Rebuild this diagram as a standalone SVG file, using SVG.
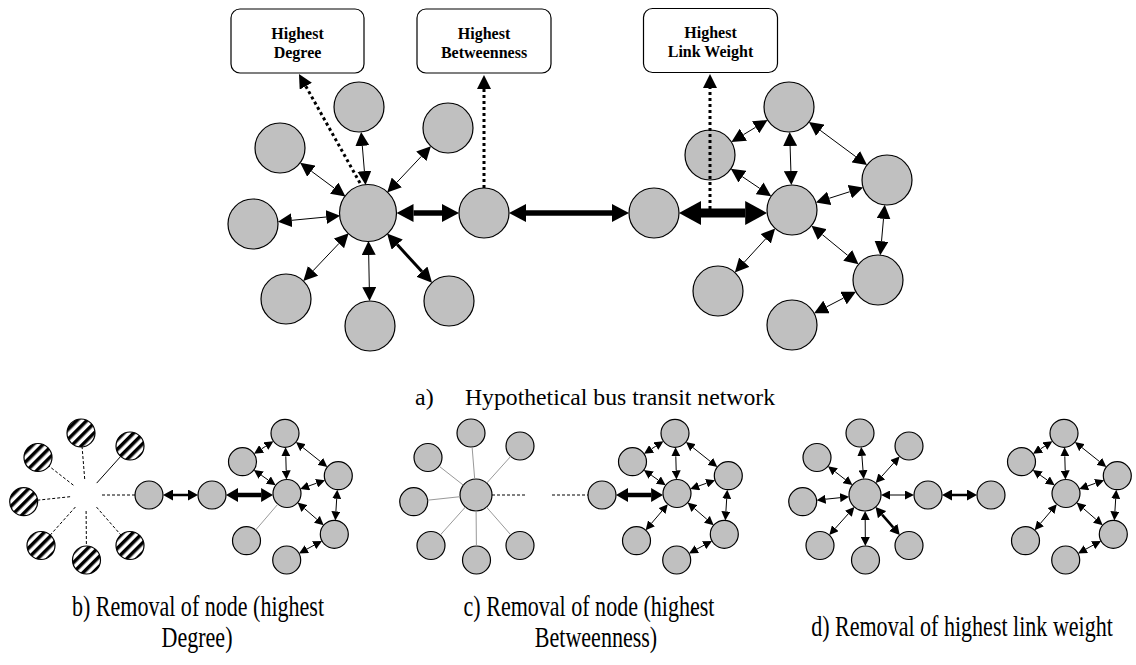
<svg xmlns="http://www.w3.org/2000/svg" width="1136" height="665" viewBox="0 0 1136 665">
  <style>
    .nd { fill: #c0c0c0; stroke: #000; stroke-width: 1.2; }
    .hx { fill: url(#hatch); stroke: #000; stroke-width: 1.2; }
    .box { fill: #fff; stroke: #000; stroke-width: 1.2; }
    .bt { font-family: "Liberation Serif", "Times New Roman", serif; font-weight: bold; font-size: 16px; text-anchor: middle; fill: #000; }
    .cap { font-family: "Liberation Serif", "Times New Roman", serif; font-size: 24px; fill: #000; }
    .cap2 { font-family: "Liberation Serif", "Times New Roman", serif; font-size: 29px; text-anchor: middle; fill: #000; }
    line { fill: none; }
    .a1 { stroke: #000; stroke-width: 1; marker-start: url(#mA); marker-end: url(#mA); }
    .a2 { stroke: #000; stroke-width: 3; marker-start: url(#mB); marker-end: url(#mB); }
    .a3 { stroke: #000; stroke-width: 5.5; marker-start: url(#mC); marker-end: url(#mC); }
    .a4 { stroke: #000; stroke-width: 9; marker-start: url(#mD); marker-end: url(#mD); }
    .dot { stroke: #000; stroke-width: 3; stroke-dasharray: 3 3; marker-end: url(#mE); }
    .s1 { stroke: #000; stroke-width: 1; marker-start: url(#ms); marker-end: url(#ms); }
    .s2 { stroke: #000; stroke-width: 2.5; marker-start: url(#mm); marker-end: url(#mm); }
    .s3 { stroke: #000; stroke-width: 4.5; marker-start: url(#ml); marker-end: url(#ml); }
    .dsh { stroke: #000; stroke-width: 1; stroke-dasharray: 3 2; }
    .sol { stroke: #000; stroke-width: 1; }
    .gry { stroke: #999; stroke-width: 1; }
  </style>
  <defs>
    <pattern id="hatch" width="7" height="7" patternUnits="userSpaceOnUse" patternTransform="rotate(45)">
      <rect width="7" height="7" fill="#fff"/>
      <rect width="3.5" height="7" fill="#000"/>
    </pattern>
    <marker id="mA" viewBox="0 -7 14 14" refX="0" refY="0" markerWidth="14" markerHeight="14" markerUnits="userSpaceOnUse" orient="auto-start-reverse"><path d="M0,-7L14,0L0,7z" fill="#000"/></marker>
    <marker id="mB" viewBox="0 -7.5 15 15" refX="0" refY="0" markerWidth="15" markerHeight="15" markerUnits="userSpaceOnUse" orient="auto-start-reverse"><path d="M0,-7.5L15,0L0,7.5z" fill="#000"/></marker>
    <marker id="mC" viewBox="0 -9 17 18" refX="0" refY="0" markerWidth="17" markerHeight="18" markerUnits="userSpaceOnUse" orient="auto-start-reverse"><path d="M0,-9L17,0L0,9z" fill="#000"/></marker>
    <marker id="mD" viewBox="0 -12 22 24" refX="0" refY="0" markerWidth="22" markerHeight="24" markerUnits="userSpaceOnUse" orient="auto-start-reverse"><path d="M0,-12L22,0L0,12z" fill="#000"/></marker>
    <marker id="mE" viewBox="0 -7 14 14" refX="0" refY="0" markerWidth="14" markerHeight="14" markerUnits="userSpaceOnUse" orient="auto"><path d="M0,-7L14,0L0,7z" fill="#000"/></marker>
    <marker id="ms" viewBox="0 -4.5 9 9" refX="0" refY="0" markerWidth="9" markerHeight="9" markerUnits="userSpaceOnUse" orient="auto-start-reverse"><path d="M0,-4.5L9,0L0,4.5z" fill="#000"/></marker>
    <marker id="mm" viewBox="0 -5.5 10 11" refX="0" refY="0" markerWidth="10" markerHeight="11" markerUnits="userSpaceOnUse" orient="auto-start-reverse"><path d="M0,-5.5L10,0L0,5.5z" fill="#000"/></marker>
    <marker id="ml" viewBox="0 -7 12 14" refX="0" refY="0" markerWidth="12" markerHeight="14" markerUnits="userSpaceOnUse" orient="auto-start-reverse"><path d="M0,-7L12,0L0,7z" fill="#000"/></marker>
  </defs>

  <rect width="1136" height="665" fill="#fff"/>

  <!-- label boxes -->
  <g id="box-degree">
    <rect class="box" x="231" y="9" width="133" height="64" rx="9"/>
    <text class="bt" x="297.5" y="38.5">Highest</text>
    <text class="bt" x="297.5" y="57.5">Degree</text>
  </g>
  <g id="box-betweenness">
    <rect class="box" x="417" y="9" width="134" height="64" rx="9"/>
    <text class="bt" x="484" y="38.5">Highest</text>
    <text class="bt" x="484" y="57.5">Betweenness</text>
  </g>
  <g id="box-linkweight">
    <rect class="box" x="643.5" y="8.5" width="134" height="64" rx="9"/>
    <text class="bt" x="710.5" y="38">Highest</text>
    <text class="bt" x="710.5" y="57">Link Weight</text>
  </g>

  <!-- a) full network -->
  <g id="nodes-a">
    <g id="a-hub"><circle class="nd" cx="368" cy="213" r="28.5"/></g>
    <g id="a-top"><circle class="nd" cx="359" cy="107" r="25"/></g>
    <g id="a-ul"><circle class="nd" cx="280" cy="148" r="25"/></g>
    <g id="a-l"><circle class="nd" cx="253" cy="224" r="25"/></g>
    <g id="a-ll"><circle class="nd" cx="286" cy="299" r="25"/></g>
    <g id="a-b"><circle class="nd" cx="370" cy="326" r="25"/></g>
    <g id="a-lr"><circle class="nd" cx="449" cy="301" r="25"/></g>
    <g id="a-ur"><circle class="nd" cx="448" cy="128" r="25"/></g>
    <g id="a-btw"><circle class="nd" cx="484" cy="213" r="25"/></g>
    <g id="a-mid"><circle class="nd" cx="654" cy="213" r="25"/></g>
    <g id="a-hub2"><circle class="nd" cx="792" cy="210" r="25"/></g>
    <g id="a-rt"><circle class="nd" cx="789" cy="107" r="25"/></g>
    <g id="a-rl"><circle class="nd" cx="710" cy="155" r="25"/></g>
    <g id="a-rr"><circle class="nd" cx="887" cy="180" r="25"/></g>
    <g id="a-rll"><circle class="nd" cx="718" cy="291" r="25"/></g>
    <g id="a-rlr"><circle class="nd" cx="878" cy="280" r="25"/></g>
    <g id="a-rb"><circle class="nd" cx="792" cy="325" r="25"/></g>
  </g>

  <!-- b) network without the highest-degree node -->
  <g id="nodes-b">
    <g id="b-top"><circle class="hx" cx="81" cy="433" r="14"/></g>
    <g id="b-ul"><circle class="hx" cx="38" cy="457.5" r="14"/></g>
    <g id="b-ur"><circle class="hx" cx="130" cy="446" r="14"/></g>
    <g id="b-l"><circle class="hx" cx="23.7" cy="501.7" r="14"/></g>
    <g id="b-ll"><circle class="hx" cx="41" cy="545.5" r="14"/></g>
    <g id="b-b"><circle class="hx" cx="86.5" cy="560" r="14"/></g>
    <g id="b-lr"><circle class="hx" cx="130" cy="545.5" r="14"/></g>
    <g id="b-g1"><circle class="nd" cx="149" cy="495" r="14"/></g>
    <g id="b-g2"><circle class="nd" cx="212" cy="495" r="14"/></g>
    <g id="b-hub2"><circle class="nd" cx="287" cy="493.5" r="14"/></g>
    <g id="b-rt"><circle class="nd" cx="285" cy="433.3" r="14"/></g>
    <g id="b-rl"><circle class="nd" cx="242.5" cy="461.7" r="14"/></g>
    <g id="b-rr"><circle class="nd" cx="338.3" cy="475.7" r="14"/></g>
    <g id="b-rlr"><circle class="nd" cx="334.3" cy="534.3" r="14"/></g>
    <g id="b-rll"><circle class="nd" cx="246.5" cy="540.7" r="14"/></g>
    <g id="b-rb"><circle class="nd" cx="286.7" cy="560" r="14"/></g>
  </g>

  <!-- c) network without the highest-betweenness node -->
  <g id="nodes-c" transform="translate(390,0)">
    <g id="c-hub"><circle class="nd" cx="86" cy="495" r="16"/></g>
    <g id="c-top"><circle class="nd" cx="81" cy="433" r="14"/></g>
    <g id="c-ul"><circle class="nd" cx="38" cy="457.5" r="14"/></g>
    <g id="c-ur"><circle class="nd" cx="130" cy="446" r="14"/></g>
    <g id="c-l"><circle class="nd" cx="23.7" cy="501.7" r="14"/></g>
    <g id="c-ll"><circle class="nd" cx="41" cy="545.5" r="14"/></g>
    <g id="c-b"><circle class="nd" cx="86.5" cy="560" r="14"/></g>
    <g id="c-lr"><circle class="nd" cx="130" cy="545.5" r="14"/></g>
    <g id="c-g2"><circle class="nd" cx="212" cy="495" r="14"/></g>
    <g id="c-hub2"><circle class="nd" cx="287" cy="493.5" r="14"/></g>
    <g id="c-rt"><circle class="nd" cx="285" cy="433.3" r="14"/></g>
    <g id="c-rl"><circle class="nd" cx="242.5" cy="461.7" r="14"/></g>
    <g id="c-rr"><circle class="nd" cx="338.3" cy="475.7" r="14"/></g>
    <g id="c-rlr"><circle class="nd" cx="334.3" cy="534.3" r="14"/></g>
    <g id="c-rll"><circle class="nd" cx="246.5" cy="540.7" r="14"/></g>
    <g id="c-rb"><circle class="nd" cx="286.7" cy="560" r="14"/></g>
  </g>

  <!-- d) network without the highest-weight link -->
  <g id="nodes-d" transform="translate(779,0)">
    <g id="d-hub"><circle class="nd" cx="86" cy="495" r="16"/></g>
    <g id="d-top"><circle class="nd" cx="81" cy="433" r="14"/></g>
    <g id="d-ul"><circle class="nd" cx="38" cy="457.5" r="14"/></g>
    <g id="d-ur"><circle class="nd" cx="130" cy="446" r="14"/></g>
    <g id="d-l"><circle class="nd" cx="23.7" cy="501.7" r="14"/></g>
    <g id="d-ll"><circle class="nd" cx="41" cy="545.5" r="14"/></g>
    <g id="d-b"><circle class="nd" cx="86.5" cy="560" r="14"/></g>
    <g id="d-lr"><circle class="nd" cx="130" cy="545.5" r="14"/></g>
    <g id="d-g1"><circle class="nd" cx="149" cy="495" r="14"/></g>
    <g id="d-g2"><circle class="nd" cx="212" cy="495" r="14"/></g>
    <g id="d-hub2"><circle class="nd" cx="287" cy="493.5" r="14"/></g>
    <g id="d-rt"><circle class="nd" cx="285" cy="433.3" r="14"/></g>
    <g id="d-rl"><circle class="nd" cx="242.5" cy="461.7" r="14"/></g>
    <g id="d-rr"><circle class="nd" cx="338.3" cy="475.7" r="14"/></g>
    <g id="d-rlr"><circle class="nd" cx="334.3" cy="534.3" r="14"/></g>
    <g id="d-rll"><circle class="nd" cx="246.5" cy="540.7" r="14"/></g>
    <g id="d-rb"><circle class="nd" cx="286.7" cy="560" r="14"/></g>
  </g>

  <!-- links -->
  <g id="connectors">
    <g id="conn-a">
      <line class="a1" x1="364.4" y1="171.1" x2="362.3" y2="145.9"/>
      <line class="a1" x1="334.2" y1="188.1" x2="311.4" y2="171.2"/>
      <line class="a1" x1="326.2" y1="217" x2="291.8" y2="220.3"/>
      <line class="a1" x1="339" y1="243.4" x2="313" y2="270.8"/>
      <line class="a1" x1="368.7" y1="255" x2="369.3" y2="287"/>
      <line class="a2" x1="397.2" y1="244.6" x2="421.9" y2="271.6"/>
      <line class="a1" x1="396.8" y1="182.4" x2="421.3" y2="156.4"/>
      <line class="a3" x1="413.5" y1="213" x2="442" y2="213"/>
      <line class="a3" x1="526" y1="213" x2="612" y2="213"/>
      <line class="a4" x1="701" y1="213" x2="745.2" y2="213"/>
      <line class="a1" x1="755.6" y1="127.3" x2="743.4" y2="134.7"/>
      <line class="a1" x1="790.1" y1="146" x2="790.9" y2="171"/>
      <line class="a1" x1="820.2" y1="130.3" x2="855.8" y2="156.7"/>
      <line class="a1" x1="742.4" y1="176.7" x2="759.6" y2="188.3"/>
      <line class="a1" x1="829.2" y1="198.3" x2="849.8" y2="191.7"/>
      <line class="a1" x1="883.5" y1="218.8" x2="881.5" y2="241.2"/>
      <line class="a1" x1="822.3" y1="234.6" x2="847.7" y2="255.4"/>
      <line class="a1" x1="765.7" y1="238.8" x2="744.3" y2="262.2"/>
      <line class="a1" x1="843.5" y1="298.1" x2="826.5" y2="306.9"/>
      <!-- callouts to the label boxes -->
      <line class="dot" x1="360" y1="183" x2="305.8" y2="86.2"/>
      <line class="dot" x1="484" y1="188" x2="484" y2="89"/>
      <line class="dot" x1="710" y1="209" x2="710" y2="88"/>
    </g>

    <g id="conn-b">
      <line class="dsh" x1="84.7" y1="479" x2="82.1" y2="447"/>
      <line class="dsh" x1="73.4" y1="485.2" x2="49" y2="466.1"/>
      <line class="sol" x1="96.7" y1="483.1" x2="120.7" y2="456.4"/>
      <line class="dsh" x1="70.1" y1="496.7" x2="37.6" y2="500.2"/>
      <line class="dsh" x1="75.4" y1="507" x2="50.3" y2="535"/>
      <line class="dsh" x1="86.1" y1="511" x2="86.4" y2="546"/>
      <line class="dsh" x1="96.5" y1="507.1" x2="120.8" y2="534.9"/>
      <line class="dsh" x1="102" y1="495" x2="135" y2="495"/>
      <line class="s2" x1="173" y1="495" x2="188" y2="495"/>
      <line class="s3" x1="238" y1="495" x2="261.1" y2="495"/>
      <line class="s1" x1="265.9" y1="446.1" x2="261.6" y2="448.9"/>
      <line class="s1" x1="285.8" y1="456.3" x2="286.2" y2="470.5"/>
      <line class="s1" x1="303" y1="447.6" x2="320.3" y2="461.4"/>
      <line class="s1" x1="261.2" y1="475.1" x2="268.3" y2="480.1"/>
      <line class="s1" x1="308.7" y1="486" x2="316.6" y2="483.2"/>
      <line class="s1" x1="336.7" y1="498.7" x2="335.9" y2="511.4"/>
      <line class="s1" x1="304.4" y1="508.5" x2="316.9" y2="519.3"/>
      <line class="gry" x1="277.9" y1="504.1" x2="255.6" y2="530.1"/>
      <line class="s1" x1="314.1" y1="545.2" x2="306.9" y2="549.1"/>
    </g>

    <g id="conn-c" transform="translate(390,0)">
      <line class="gry" x1="84.7" y1="479" x2="82.1" y2="447"/>
      <line class="gry" x1="73.4" y1="485.2" x2="49" y2="466.1"/>
      <line class="gry" x1="96.7" y1="483.1" x2="120.7" y2="456.4"/>
      <line class="gry" x1="70.1" y1="496.7" x2="37.6" y2="500.2"/>
      <line class="gry" x1="75.4" y1="507" x2="50.3" y2="535"/>
      <line class="gry" x1="86.1" y1="511" x2="86.4" y2="546"/>
      <line class="gry" x1="96.5" y1="507.1" x2="120.8" y2="534.9"/>
      <line class="dsh" x1="102" y1="495" x2="136" y2="495"/>
      <line class="dsh" x1="162" y1="495" x2="198" y2="495"/>
      <line class="s3" x1="238" y1="495" x2="261.1" y2="495"/>
      <line class="s1" x1="265.9" y1="446.1" x2="261.6" y2="448.9"/>
      <line class="s1" x1="285.8" y1="456.3" x2="286.2" y2="470.5"/>
      <line class="s1" x1="303" y1="447.6" x2="320.3" y2="461.4"/>
      <line class="s1" x1="261.2" y1="475.1" x2="268.3" y2="480.1"/>
      <line class="s1" x1="308.7" y1="486" x2="316.6" y2="483.2"/>
      <line class="s1" x1="336.7" y1="498.7" x2="335.9" y2="511.4"/>
      <line class="s1" x1="304.4" y1="508.5" x2="316.9" y2="519.3"/>
      <line class="s1" x1="272" y1="511" x2="261.5" y2="523.3"/>
      <line class="s1" x1="314.1" y1="545.2" x2="306.9" y2="549.1"/>
    </g>

    <g id="conn-d" transform="translate(779,0)">
      <line class="s1" x1="84" y1="470.1" x2="82.9" y2="455.9"/>
      <line class="s1" x1="66.3" y1="479.6" x2="56.1" y2="471.7"/>
      <line class="s1" x1="102.7" y1="476.4" x2="114.6" y2="463.1"/>
      <line class="s1" x1="61.1" y1="497.7" x2="46.6" y2="499.2"/>
      <line class="s1" x1="69.4" y1="513.7" x2="56.3" y2="528.3"/>
      <line class="s1" x1="86.2" y1="520" x2="86.3" y2="537"/>
      <line class="s2" x1="103.1" y1="514.6" x2="114.2" y2="527.4"/>
      <line class="s1" x1="111" y1="495" x2="126" y2="495"/>
      <line class="s2" x1="173" y1="495" x2="188" y2="495"/>
      <line class="s1" x1="265.9" y1="446.1" x2="261.6" y2="448.9"/>
      <line class="s1" x1="285.8" y1="456.3" x2="286.2" y2="470.5"/>
      <line class="s1" x1="303" y1="447.6" x2="320.3" y2="461.4"/>
      <line class="s1" x1="261.2" y1="475.1" x2="268.3" y2="480.1"/>
      <line class="s1" x1="308.7" y1="486" x2="316.6" y2="483.2"/>
      <line class="s1" x1="336.7" y1="498.7" x2="335.9" y2="511.4"/>
      <line class="s1" x1="304.4" y1="508.5" x2="316.9" y2="519.3"/>
      <line class="s1" x1="272" y1="511" x2="261.5" y2="523.3"/>
      <line class="s1" x1="314.1" y1="545.2" x2="306.9" y2="549.1"/>
    </g>
  </g>

  <!-- captions -->
  <g id="captions">
    <text class="cap" x="415" y="405">a)</text>
    <text class="cap" x="465" y="405" textLength="310" lengthAdjust="spacingAndGlyphs">Hypothetical bus transit network</text>
    <text class="cap2" transform="translate(198,616) scale(0.76,1)">b) Removal of node (highest</text>
    <text class="cap2" transform="translate(197,647) scale(0.76,1)">Degree)</text>
    <text class="cap2" transform="translate(589,616) scale(0.76,1)">c) Removal of node (highest</text>
    <text class="cap2" transform="translate(596,647) scale(0.76,1)">Betweenness)</text>
    <text class="cap2" transform="translate(962,636) scale(0.76,1)">d) Removal of highest link weight</text>
  </g>
</svg>
